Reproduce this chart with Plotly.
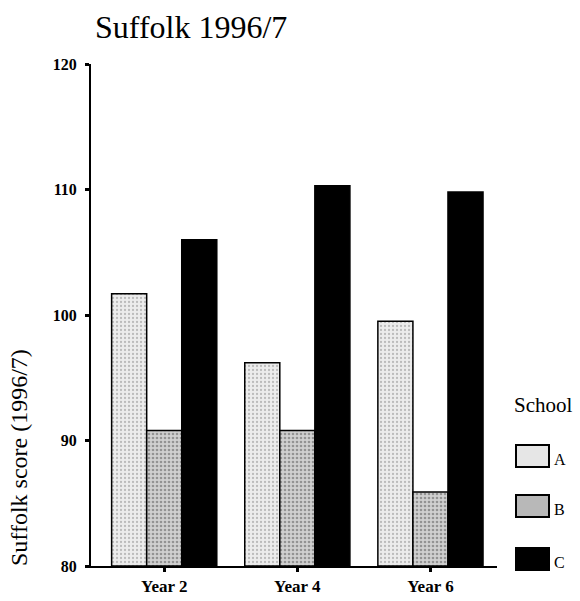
import plotly.graph_objects as go

categories = ["Year 2", "Year 4", "Year 6"]
school_a = [101.7, 96.2, 99.5]
school_b = [90.8, 90.8, 85.9]
school_c = [106.0, 110.3, 109.8]
series_names = ["A", "B", "C"]
y_ticks = [80, 90, 100, 110, 120]

FONT = "Liberation Serif, Times New Roman, serif"
x_idx = list(range(len(categories)))

fig = go.Figure()
styles = [
    dict(color="#ececec", pattern=dict(shape=".", fgcolor="#8a8a8a", size=4, solidity=0.25)),
    dict(color="#d0d0d0", pattern=dict(shape=".", fgcolor="#555555", size=4, solidity=0.35)),
    dict(color="#000000"),
]
for name, vals, st in zip(series_names, [school_a, school_b, school_c], styles):
    fig.add_trace(go.Bar(
        x=x_idx, y=[v - 80 for v in vals], base=80, name=name,
        marker=dict(line=dict(color="black", width=1.5), **st),
        showlegend=False,
    ))

fig.update_layout(
    width=580, height=601,
    paper_bgcolor="white", plot_bgcolor="white",
    margin=dict(l=91, r=83, t=64, b=35),
    barmode="group", bargap=0.21, bargroupgap=0,
    title=dict(text="Suffolk 1996/7", x=95/580, xanchor="left", y=1-27/601, yanchor="middle",
               font=dict(family=FONT, size=32, color="black")),
    font=dict(family=FONT, color="black"),
)
fig.update_xaxes(
    range=[-0.55, 2.5], tickvals=x_idx, ticktext=["<b>%s</b>" % c for c in categories],
    showline=True, linecolor="black", linewidth=2, automargin=False,
    ticks="outside", ticklen=4, tickwidth=3, tickcolor="black",
    tickfont=dict(family=FONT, size=17, color="black"), showgrid=False, zeroline=False,
)
fig.update_yaxes(
    range=[80, 120], tickvals=y_ticks, ticktext=["<b>%d</b>" % t for t in y_ticks],
    showline=True, linecolor="black", linewidth=2, automargin=False,
    ticks="outside", ticklen=4, tickwidth=3, tickcolor="black", ticklabelstandoff=5,
    tickfont=dict(family=FONT, size=16, color="black"), showgrid=False, zeroline=False,
)

px0, pw = 91, 580 - 91 - 83
py0, ph = 64, 601 - 64 - 35
def px(x): return (x - px0) / pw
def py(y): return (py0 + ph - y) / ph

# y-axis title
fig.add_annotation(text="Suffolk score (1996/7)", xref="paper", yref="paper",
                   x=px(19), y=py(458), textangle=-90, showarrow=False,
                   font=dict(family=FONT, size=24, color="black"), xanchor="center", yanchor="middle")

# Legend drawn manually
fig.add_annotation(text="School", xref="paper", yref="paper", x=px(512), y=py(405),
                   showarrow=False, xanchor="left", yanchor="middle",
                   font=dict(family=FONT, size=21, color="black"))
legend_fills = ["#e6e6e6", "#b8b8b8", "#000000"]
legend_y = [456, 506, 559]
for name, fill, ly in zip(series_names, legend_fills, legend_y):
    fig.add_shape(type="rect", xref="paper", yref="paper",
                  x0=px(516), x1=px(549), y0=py(ly + 11), y1=py(ly - 11),
                  fillcolor=fill, line=dict(color="black", width=2))
    fig.add_annotation(text=name, xref="paper", yref="paper", x=px(552), y=py(ly + 3),
                       showarrow=False, xanchor="left", yanchor="middle",
                       font=dict(family=FONT, size=16, color="black"))

fig.write_html("out.html", config={"displayModeBar": False},
               post_script="document.body.style.margin='0';document.body.style.padding='0';")
